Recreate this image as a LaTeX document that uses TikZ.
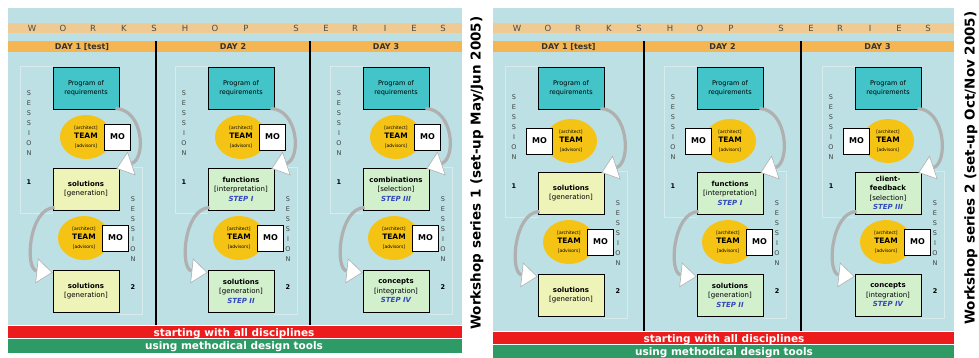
\documentclass[tikz,border=0pt]{standalone}
\usepackage{fontspec}
\setmainfont{DejaVu Sans}
\usetikzlibrary{arrows.meta,positioning,shapes.geometric}

\definecolor{panelblue}{HTML}{BCE0E4}
\definecolor{bandlight}{HTML}{EFCB93}
\definecolor{bandday}{HTML}{F5B552}
\definecolor{progteal}{HTML}{42C4C8}
\definecolor{resyellow}{HTML}{EEF4B8}
\definecolor{resgreen}{HTML}{D3F0CD}
\definecolor{teamgold}{HTML}{F5C314}
\definecolor{bandred}{HTML}{EC1C1C}
\definecolor{bandgreen}{HTML}{2E9A66}
\definecolor{stepblue}{HTML}{3346BE}
\definecolor{flowgray}{HTML}{B0B0B0}
\definecolor{framegray}{HTML}{D8EAEC}

\newcommand\teamnote[1]{{\fontsize{4.5}{5}\selectfont #1}}
\newcommand\steplbl[1]{{\color{stepblue}\bfseries\itshape #1}}

\begin{document}
\begin{tikzpicture}[x=1pt,y=-1pt,
 box/.style={draw=black,line width=0.9pt,minimum width=66pt,minimum height=42pt,
   inner sep=0pt,align=center,font=\fontsize{7}{9.5}\selectfont},
 prog/.style={box,fill=progteal,font=\fontsize{6.5}{9}\selectfont},
 team/.style={ellipse,fill=teamgold,minimum width=52pt,minimum height=44pt,
   inner sep=0pt,align=center,font=\fontsize{7.5}{9}\selectfont},
 mo/.style={draw=black,line width=0.6pt,fill=white,minimum width=26pt,
   minimum height=26pt,inner sep=0pt,font=\fontsize{8}{9}\selectfont\bfseries},
 sessionlbl/.style={align=center,text=black!75,inner sep=0pt,font=\fontsize{6.5}{10}\selectfont},
 num/.style={inner sep=0pt,font=\fontsize{6.5}{8}\selectfont\bfseries},
 daylbl/.style={inner sep=0pt,text=black!80,font=\fontsize{8}{9}\selectfont\bfseries},
 wsletter/.style={inner sep=0pt,text=black!70,font=\fontsize{8.5}{9}\selectfont},
 sessframe/.style={draw=framegray,line width=0.6pt},
 flow/.style={draw=flowgray,line width=3.2pt,
   -{Triangle[length=16pt,width=25pt,fill=white,line width=0.6pt]}},
 divider/.style={line width=2.5pt},
 bandtext/.style={anchor=base,inner sep=0pt,text=white,font=\fontsize{10.5}{12}\selectfont\bfseries},
 title/.style={rotate=90,inner sep=0pt,font=\fontsize{13.5}{16}\selectfont\bfseries}]

\useasboundingbox[fill=white] (0,0) rectangle (979,357);

% panels with header bars and bottom bars
\foreach \p/\px/\pe/\dva/\dvb/\bot/\mid in {L/8/462/156/310/325/234, R/493/954/644/801/331/724} {
  \fill[panelblue] (\px,8) rectangle (\pe,\bot);
  \fill[bandlight] (\px,23) rectangle (\pe,33);
  \fill[bandday] (\px,41) rectangle (\pe,52);
  \fill[bandred] (\px,\bot+1) rectangle (\pe,\bot+13);
  \fill[bandgreen] (\px,\bot+14) rectangle (\pe,\bot+28);
  \foreach \ch/\dx in {W/24,O/55,R/85,K/116,S/146,H/177,O/207,P/238,S/288,E/318,R/347,I/377,E/406,S/435}
    \node[wsletter] (ws\p\dx) at (\px+\dx,28.5) {\ch};
  \node[daylbl] (dayone\p) at ({(\px+\dva)/2},46.5) {DAY 1 [test]};
  \node[daylbl] (daytwo\p) at ({(\dva+\dvb)/2},46.5) {DAY 2};
  \node[daylbl] (daythree\p) at ({(\dvb+\pe)/2},46.5) {DAY 3};
  \draw[divider] (\dva,41) -- (\dva,\bot);
  \draw[divider] (\dvb,41) -- (\dvb,\bot);
  \node[bandtext] (start\p) at (\mid,\bot+11.5) {starting with all disciplines};
  \node[bandtext] (tools\p) at (\mid,\bot+24.5) {using methodical design tools};
}

% one column per day
\foreach \n/\x/\dy/\side/\col/\ta/\tb in {
  a/8/0/right/resyellow/{\textbf{solutions}\\{}[generation]}/{\textbf{solutions}\\{}[generation]},
  b/163/0/right/resgreen/{\textbf{functions}\\{}[interpretation]\\\steplbl{STEP I}}/{\textbf{solutions}\\{}[generation]\\\steplbl{STEP II}},
  c/318/0/right/resgreen/{\textbf{combinations}\\{}[selection]\\\steplbl{STEP III}}/{\textbf{concepts}\\{}[integration]\\\steplbl{STEP IV}},
  d/493/4/left/resyellow/{\textbf{solutions}\\{}[generation]}/{\textbf{solutions}\\{}[generation]},
  e/652/4/left/resgreen/{\textbf{functions}\\{}[interpretation]\\\steplbl{STEP I}}/{\textbf{solutions}\\{}[generation]\\\steplbl{STEP II}},
  f/810/4/left/resgreen/{\textbf{client-}\\\textbf{feedback}\\{}[selection]\\\steplbl{STEP III}}/{\textbf{concepts}\\{}[integration]\\\steplbl{STEP IV}}} {
  \node[prog] (prog\n) at (\x+78,88) {Program of\\requirements};
  \node[box,fill=\col] (resa\n) at (\x+78,189+\dy) {\ta};
  \node[box,fill=\col] (resb\n) at (\x+78,291+\dy) {\tb};
  \node[team] (teama\n) at (\x+78,137+\dy) {\teamnote{[architect]}\\\textbf{TEAM}\\\teamnote{[advisors]}};
  \node[mo,\side=-8pt of teama\n] (moa\n) {MO};
  \node[team] (teamb\n) at (\x+76,238+\dy) {\teamnote{[architect]}\\\textbf{TEAM}\\\teamnote{[advisors]}};
  \node[mo,right=-8pt of teamb\n] (mob\n) {MO};
  \node[sessionlbl] (sesa\n) at (\x+21,123+\dy) {S\\E\\S\\S\\I\\O\\N};
  \node[num] (numa\n) at (\x+21,182+\dy) {1};
  \node[sessionlbl] (sesb\n) at (\x+125,229+\dy) {S\\E\\S\\S\\I\\O\\N};
  \node[num] (numb\n) at (\x+125,287+\dy) {2};
  \draw[sessframe] (prog\n.north west) -- ++(-32,0) |- ([yshift=-3pt]resa\n.south west);
  \draw[sessframe] (resa\n.north east) -- ++(23,0) |- ([yshift=-2pt]resb\n.south east);
  \draw[flow] ([xshift=-4pt,yshift=1pt]prog\n.south east) .. controls +(28,1) and +(30,-10) .. ([xshift=-3pt,yshift=-1pt]resa\n.north east);
  \draw[flow] ([xshift=2pt,yshift=3pt]resa\n.south west) .. controls +(-26,1) and +(-28,-3) .. ([yshift=-3pt]resb\n.north west);
}

\node[title] (titleone) at (477,173) {Workshop series 1 (set-up May/Jun 2005)};
\node[title] (titletwo) at (971,168) {Workshop series 2 (set-up Oct/Nov 2005)};
\end{tikzpicture}
\end{document}
